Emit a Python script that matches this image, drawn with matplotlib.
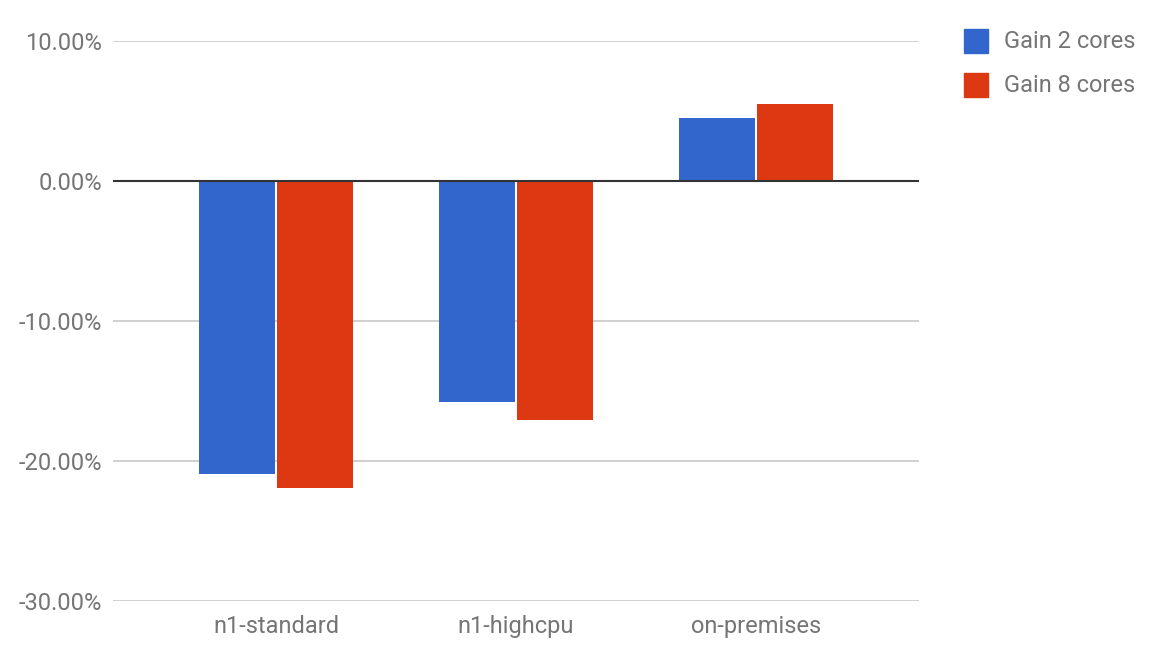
import matplotlib.pyplot as plt
import numpy as np
from matplotlib.patches import Rectangle

categories = ['n1-standard', 'n1-highcpu', 'on-premises']
gain_2_cores = [-20.93, -15.8, 4.5]
gain_8_cores = [-21.9, -17.05, 5.5]
y_ticks = [-30, -20, -10, 0, 10]

plt.rcParams['font.family'] = ['Roboto', 'DejaVu Sans']

fig = plt.figure(figsize=(11.64, 6.58), dpi=100)
ax = fig.add_axes([113 / 1164, 1 - 601 / 658, 806 / 1164, 560 / 658])

x = np.arange(len(categories))
w = 76 / 240
gap = 2 / 240
ax.bar(x - w / 2 - gap / 2, gain_2_cores, width=w, color='#3366cc', zorder=3)
ax.bar(x + w / 2 + gap / 2, gain_8_cores, width=w, color='#dc3912', zorder=3)

ax.set_xlim(-0.5 - 43 / 240, 2.5 + 43 / 240)
ax.set_ylim(-30, 10)
ax.set_yticks(y_ticks)
ax.set_yticklabels([f'{v:.2f}%' for v in y_ticks])
ax.set_xticks(x)
ax.set_xticklabels(categories)

for v in y_ticks:
    if v != 0:
        ax.axhline(v, color='#cccccc', lw=1.3, zorder=1)
ax.axhline(0, color='#333333', lw=1.5, zorder=4)

for s in ax.spines.values():
    s.set_visible(False)
ax.tick_params(axis='both', length=0, labelsize=17, labelcolor='#757575')
ax.tick_params(axis='y', pad=8)
ax.tick_params(axis='x', pad=10)

# legend
for i, (lab, col) in enumerate([('Gain 2 cores', '#3366cc'), ('Gain 8 cores', '#dc3912')]):
    yc = 41 + i * 44
    fig.patches.append(Rectangle((964 / 1164, 1 - (yc + 12) / 658), 24 / 1164, 24 / 658,
                                 transform=fig.transFigure, color=col))
    fig.text(1004 / 1164, 1 - yc / 658, lab, fontsize=17, color='#757575', va='center', ha='left')

fig.savefig('out.png', dpi=100)
